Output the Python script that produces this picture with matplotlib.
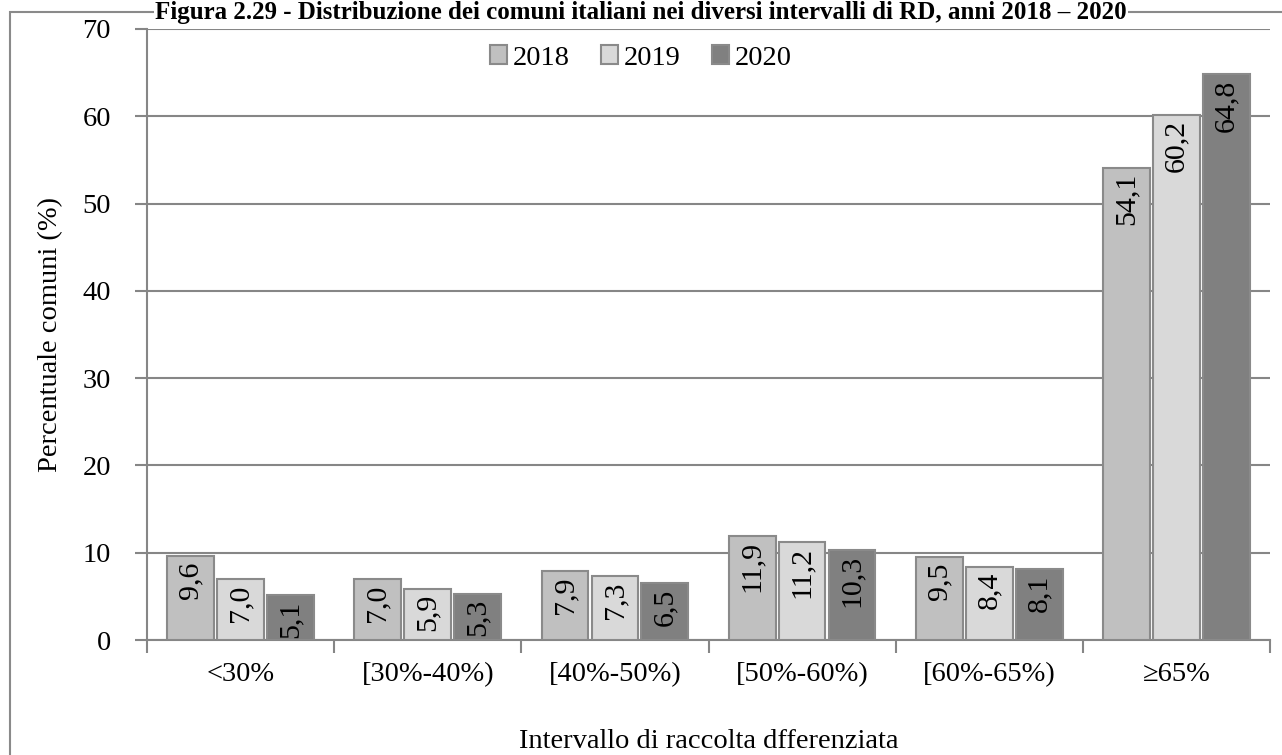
import numpy as np
import matplotlib.pyplot as plt
from matplotlib.patches import Rectangle

plt.rcParams['font.family'] = ['Liberation Serif', 'DejaVu Serif']

categories = ['<30%', '[30%-40%)', '[40%-50%)', '[50%-60%)', '[60%-65%)', '≥65%']
years = ['2018', '2019', '2020']
values = {
    '2018': [9.6, 7.0, 7.9, 11.9, 9.5, 54.1],
    '2019': [7.0, 5.9, 7.3, 11.2, 8.4, 60.2],
    '2020': [5.1, 5.3, 6.5, 10.3, 8.1, 64.8],
}
colors = {'2018': '#c0c0c0', '2019': '#d9d9d9', '2020': '#808080'}

fig = plt.figure(figsize=(12.82, 7.55), dpi=100)
ax = fig.add_axes([147 / 1282, 1 - 640 / 755, (1270 - 147) / 1282, (640 - 29) / 755])

# outer chart border
fig.patches.append(Rectangle((10 / 1282, -0.01), 1.02, 1 - 12 / 755 + 0.01,
                             transform=fig.transFigure, fill=False,
                             edgecolor='#8a8a8a', linewidth=1.5))

fs = 20.5
x = np.arange(len(categories))
w = 0.25
step = 0.267
for i, yr in enumerate(years):
    pos = x + (i - 1) * step
    ax.bar(pos, values[yr], width=w, color=colors[yr], edgecolor='#8a8a8a',
           linewidth=1.5, label=yr, zorder=3)
    for p, v in zip(pos, values[yr]):
        ax.text(p, v - 0.6, f'{v:.1f}'.replace('.', ','), rotation=90,
                ha='center', va='top', fontsize=21.5, zorder=4)

ax.set_xlim(-0.5, len(categories) - 0.5)
ax.set_ylim(0, 70)
ax.set_yticks(range(0, 71, 10))
ax.yaxis.grid(True, color='#868686', linewidth=1.5, zorder=0)
ax.set_axisbelow(True)

ax.set_xticks(x)
ax.set_xticklabels(categories, fontsize=fs)
ax.set_xticks(np.arange(-0.5, len(categories)), minor=True)
ax.tick_params(axis='x', which='major', length=0, pad=16)
ax.tick_params(axis='x', which='minor', length=9, width=1.5, color='#868686', direction='out')
ax.tick_params(axis='y', labelsize=fs, length=9, width=1.5, color='#868686', pad=17)

for s in ['top', 'right']:
    ax.spines[s].set_visible(False)
for s in ['left', 'bottom']:
    ax.spines[s].set_color('#868686')
    ax.spines[s].set_linewidth(1.5)

ax.set_ylabel('Percentuale comuni (%)', fontsize=fs, labelpad=14)
ax.set_xlabel('Intervallo di raccolta dfferenziata', fontsize=fs, labelpad=30)

ax.legend(loc='center', bbox_to_anchor=(641 / 1282, 1 - 58 / 755),
          bbox_transform=fig.transFigure, ncol=3, frameon=False,
          fontsize=fs, handlelength=0.6, handleheight=0.6, handletextpad=0.2,
          columnspacing=1.1)

fig.text(0.5, 0.999, 'Figura 2.29 - Distribuzione dei comuni italiani nei diversi intervalli di RD, anni 2018 – 2020',
         ha='center', va='top', fontsize=18, fontweight='bold',
         bbox=dict(facecolor='white', edgecolor='none', pad=1))

fig.savefig('out.png', dpi=100)
